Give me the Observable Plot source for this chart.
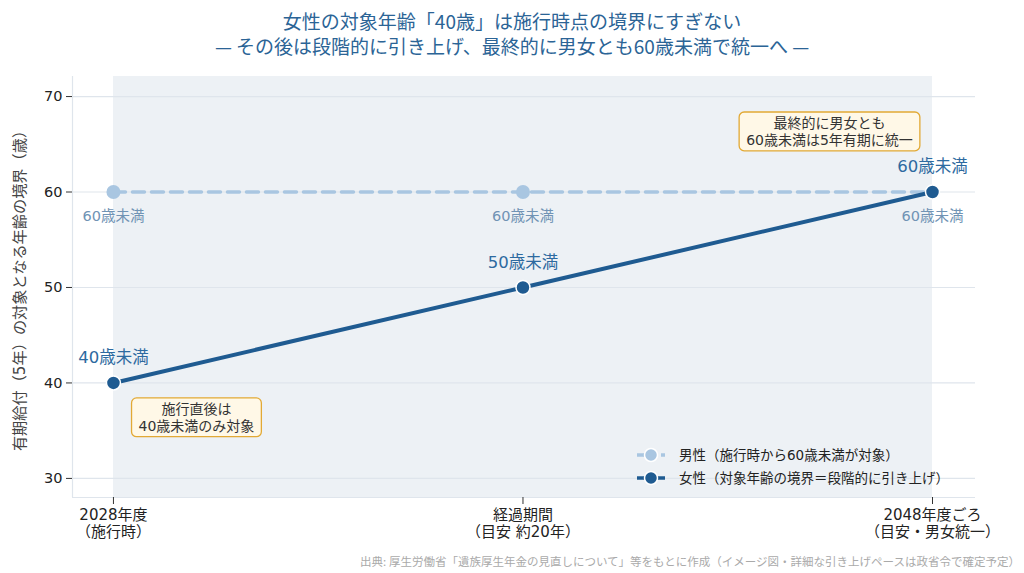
<!DOCTYPE html>
<html><head><meta charset="utf-8">
<script src="https://cdn.jsdelivr.net/npm/d3@7"></script>
<script src="https://cdn.jsdelivr.net/npm/@observablehq/plot@0.6"></script>
<style>
body{margin:0;background:#fff;font-family:"DejaVu Sans","Noto Sans CJK JP",sans-serif;}
#wrap{position:relative;width:1024px;height:573px;overflow:hidden;}
.title{position:absolute;left:0;width:1024px;text-align:center;color:#2b6496;font-size:19px;line-height:22px;height:22px;font-family:"Noto Sans CJK JP",sans-serif;white-space:nowrap;}
#t1{top:10px;} #t2{top:35px;}
#foot{position:absolute;right:4px;top:553px;font-size:11.5px;color:#aaaaaa;white-space:nowrap;font-family:"Noto Sans CJK JP",sans-serif;}
#chart{position:absolute;left:0;top:0;}
</style></head>
<body>
<div id="wrap">
<div id="chart"></div>
<div class="title" id="t1">女性の対象年齢「40歳」は施行時点の境界にすぎない</div>
<div class="title" id="t2">— その後は段階的に引き上げ、最終的に男女とも60歳未満で統一へ —</div>
<div id="foot">出典: 厚生労働省「遺族厚生年金の見直しについて」等をもとに作成（イメージ図・詳細な引き上げペースは政省令で確定予定）</div>
</div>
<script>
const stages = ["2028年度\n（施行時）", "経過期間\n（目安 約20年）", "2048年度ごろ\n（目安・男女統一）"];
const femaleAges = [40, 50, 60];
const maleAges = [60, 60, 60];
const yTicks = [30, 40, 50, 60, 70];
const yLabel = "有期給付（5年）の対象となる年齢の境界（歳）";
const seriesNames = ["男性（施行時から60歳未満が対象）", "女性（対象年齢の境界＝段階的に引き上げ）"];
const noteStart = "施行直後は\n40歳未満のみ対象";
const noteEnd = "最終的に男女とも\n60歳未満は5年有期に統一";

const FONT = '"DejaVu Sans","Noto Sans CJK JP",sans-serif';
const DARK = "#1f5b91", LIGHT = "#a9c6e1";
const female = stages.map((s, i) => ({i, v: femaleAges[i]}));
const male = stages.map((s, i) => ({i, v: maleAges[i]}));
const yDomain = [28, 72.1];
const xDomain = [-0.1, stages.length - 1 + 0.105];
const last = stages.length - 1;

const plot = Plot.plot({
  width: 1024, height: 573,
  marginTop: 76, marginBottom: 76, marginLeft: 72, marginRight: 49,
  style: {fontFamily: FONT, fontSize: "13px", background: "transparent", color: "#222"},
  x: {domain: xDomain, label: null},
  y: {domain: yDomain, label: null},
  marks: [
    Plot.rect([{a: 0, b: last}], {x1: "a", x2: "b", fill: "#edf1f5"}),
    Plot.gridY(yTicks, {stroke: "#dfe5ec", strokeOpacity: 1, strokeWidth: 1.2}),
    Plot.ruleX([xDomain[0]], {stroke: "#dfe5ec", strokeWidth: 1.2}),
    Plot.ruleY([yDomain[0]], {stroke: "#dfe5ec", strokeWidth: 1.2}),
    Plot.axisX({ticks: stages.map((s, i) => i), tickFormat: i => stages[i], tickSize: 7, tickPadding: 3, fontSize: 15, lineHeight: 1.15, label: null, stroke: "#333", fill: "#222"}),
    Plot.axisY({ticks: yTicks, tickSize: 6, tickPadding: 4, fontSize: 14.5, label: null, stroke: "#333", fill: "#222"}),
    Plot.text([yLabel], {frameAnchor: "left", textAnchor: "middle", rotate: -90, dx: -52, fontSize: 15.2, fill: "#444"}),
    Plot.line(male, {x: "i", y: "v", stroke: LIGHT, strokeWidth: 3.5, strokeDasharray: "12,7"}),
    Plot.dot(male, {x: "i", y: "v", r: 7, fill: LIGHT}),
    Plot.line(female, {x: "i", y: "v", stroke: DARK, strokeWidth: 4}),
    Plot.dot(female, {x: "i", y: "v", r: 7, fill: DARK, stroke: "white", strokeWidth: 1.5}),
    Plot.text(female, {x: "i", y: "v", text: d => `${d.v}歳未満`, dy: -25, fill: "#2d6aa0", fontSize: 16.5}),
    Plot.text(male, {x: "i", y: "v", text: d => `${d.v}歳未満`, dy: 24, fill: "#7093b4", fontSize: 14.5}),
    Plot.text([{i: 0, v: femaleAges[0]}], {x: "i", y: "v", text: () => noteStart, dx: 83, dy: 34, fontSize: 14, lineHeight: 1.2, fill: "#333", className: "note"}),
    Plot.text([{i: last, v: femaleAges[last]}], {x: "i", y: "v", text: () => noteEnd, dx: -103, dy: -61, fontSize: 14, lineHeight: 1.2, fill: "#333", className: "note"})
  ]
});
document.getElementById("chart").appendChild(plot);

// rounded boxes behind annotation text
const svg = d3.select(plot);
svg.selectAll("g.note text").each(function() {
  const bb = this.getBBox();
  const padX = 7, padY = 3;
  const parent = this.parentNode;
  const tr = this.getAttribute("transform");
  const r = document.createElementNS("http://www.w3.org/2000/svg", "rect");
  r.setAttribute("x", bb.x - padX); r.setAttribute("y", bb.y - padY);
  r.setAttribute("width", bb.width + 2 * padX); r.setAttribute("height", bb.height + 2 * padY);
  r.setAttribute("rx", 5); r.setAttribute("fill", "#fff8e7"); r.setAttribute("stroke", "#e2a935"); r.setAttribute("stroke-width", 1.3);
  if (tr) r.setAttribute("transform", tr);
  parent.insertBefore(r, this);
});

// legend (line + dot swatches) in lower right of the frame
const fx = 72 + (1024 - 72 - 49), fy = 573 - 76;
const lg = svg.append("g").attr("font-family", FONT).attr("font-size", 13.5).attr("text-anchor", "start");
[{name: seriesNames[0], color: LIGHT, dash: "8,4", stroke: "white"}, {name: seriesNames[1], color: DARK, dash: null, stroke: "white"}].forEach((s, k) => {
  const y = fy - 42 + k * 23;
  const x0 = fx - 338;
  lg.append("line").attr("x1", x0).attr("x2", x0 + 28).attr("y1", y).attr("y2", y)
    .attr("stroke", s.color).attr("stroke-width", 3.5).attr("stroke-dasharray", s.dash);
  lg.append("circle").attr("cx", x0 + 14).attr("cy", y).attr("r", 6.5).attr("fill", s.color).attr("stroke", s.stroke).attr("stroke-width", 1.5);
  lg.append("text").attr("x", x0 + 42).attr("y", y).attr("dy", "0.35em").attr("fill", "#222").text(s.name);
});
</script>
</body></html>
